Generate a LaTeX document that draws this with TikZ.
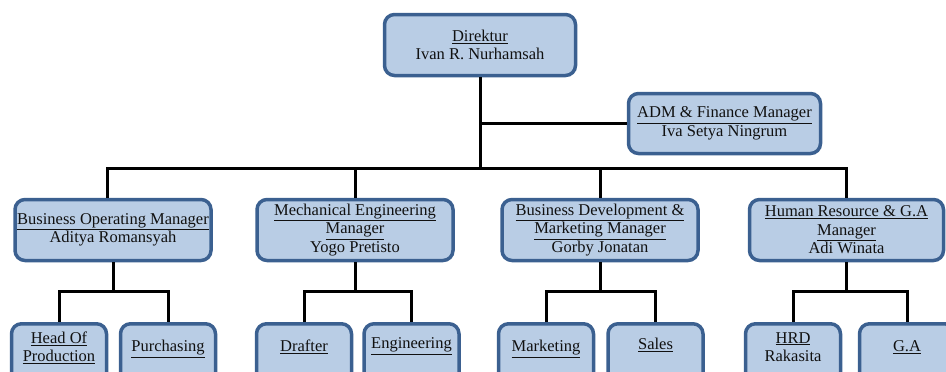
\documentclass[tikz,border=0pt]{standalone}
\usepackage{fontspec}
\setmainfont{Liberation Serif}
\usetikzlibrary{positioning}
\definecolor{boxfill}{HTML}{B9CDE5}
\definecolor{boxline}{HTML}{3B6090}
\definecolor{txt}{HTML}{111111}

\begin{document}
\begin{tikzpicture}[x=1pt, y=-1pt,
    box/.style={draw=boxline, fill=boxfill, line width=3.5pt, rounded corners=10pt,
        align=center, text=txt, font=\fontsize{16.5}{18.5}\selectfont, inner sep=2pt},
    manager/.style={box, minimum width=196pt, minimum height=61pt},
    leaf/.style={box, minimum width=95pt, anchor=north, text height=26pt, text depth=40pt},
    link/.style={line width=3pt, black}]
    \useasboundingbox (0,0) rectangle (946,372);

    % Top level
    \node[box, minimum width=191pt, minimum height=61pt] (dir) at (480,45) {\underline{Direktur}\\Ivan R. Nurhamsah};
    \node[box, minimum width=192pt, minimum height=60pt] (adm) at (724.5,123.5) {\underline{ADM \& Finance Manager}\\Iva Setya Ningrum};

    % Managers
    \node[manager] (bom) at (113,230) {\underline{Business Operating Manager}\\Aditya Romansyah};
    \node[manager] (mem) at (355,230) {\underline{Mechanical Engineering}\\\underline{Manager}\\Yogo Pretisto};
    \node[manager] (bdm) at (600,230) {\underline{Business Development \&}\\\underline{Marketing Manager}\\Gorby Jonatan};
    \node[manager, minimum width=194pt] (hr) at (846.5,230) {\underline{Human Resource \& G.A}\\\underline{Manager}\\Adi Winata};

    % Staff
    \node[leaf, text height=36pt] (hop) at (59,322) {\underline{Head Of}\\\underline{Production}};
    \node[leaf] (pur) at (168,322) {\underline{Purchasing}};
    \node[leaf] (dra) at (304,322) {\underline{Drafter}};
    \node[leaf, text height=23pt] (eng) at (411.5,322) {\underline{Engineering}};
    \node[leaf] (mkt) at (546,322) {\underline{Marketing}};
    \node[leaf, text height=24pt] (sal) at (655.5,322) {\underline{Sales}};
    \node[leaf, text height=36pt] (hrd) at (793,322) {\underline{HRD}\\Rakasita};
    \node[leaf] (ga) at (907,322) {\underline{G.A}};

    % Connectors
    \coordinate (trunk) at (480,168);
    \draw[link] (dir.south) -- (trunk);
    \draw[link] (dir.south |- adm.west) -- (adm.west);
    \draw[link] ([xshift=-6pt]bom.north) |- (trunk) -| (hr.north);
    \draw[link] (mem.north) -- (mem.north |- trunk);
    \draw[link] (bdm.north) -- (bdm.north |- trunk);

    \draw[link] (bom.south) -- (bom.south |- 0,291);
    \draw[link] (hop.north) |- (pur.north |- 0,291) -- (pur.north);
    \draw[link] (mem.south) -- (mem.south |- 0,291);
    \draw[link] (dra.north) |- (eng.north |- 0,291) -- (eng.north);
    \draw[link] (bdm.south) -- (bdm.south |- 0,291);
    \draw[link] (mkt.north) |- (sal.north |- 0,291) -- (sal.north);
    \draw[link] (hr.south) -- (hr.south |- 0,291);
    \draw[link] (hrd.north) |- (ga.north |- 0,291) -- (ga.north);
\end{tikzpicture}
\end{document}
